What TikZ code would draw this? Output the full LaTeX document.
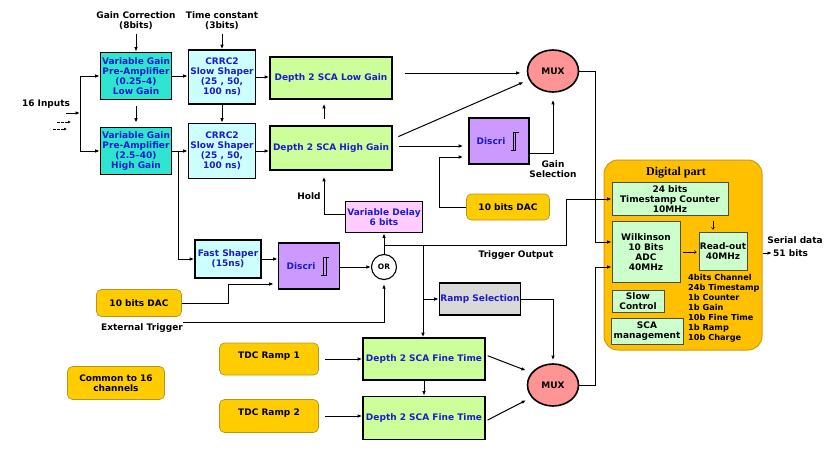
\documentclass[tikz,border=0pt]{standalone}
\usepackage{fontspec}
\setmainfont{DejaVu Sans}
\newfontfamily\titlefont{Liberation Serif}
\usetikzlibrary{arrows.meta,shapes.geometric}
\definecolor{boxBlue}{HTML}{1C1CC8}
\definecolor{preCyan}{HTML}{2EE6D0}
\definecolor{shaperCyan}{HTML}{CCFFFF}
\definecolor{scaGreen}{HTML}{CCFF99}
\definecolor{discPurple}{HTML}{CC99FF}
\definecolor{delayPink}{HTML}{FFCCFF}
\definecolor{muxRed}{HTML}{FF9494}
\definecolor{dacGold}{HTML}{FFCC00}
\definecolor{dacEdge}{HTML}{B8961E}
\definecolor{rampGray}{HTML}{D9D9D9}
\definecolor{digGold}{HTML}{FFC000}
\definecolor{digEdge}{HTML}{D49A10}
\definecolor{digGreen}{HTML}{CCFFCC}

\begin{document}
\begin{tikzpicture}[
  x=1pt,y=-1pt,
  txt/.style={font=\fontsize{9}{10}\selectfont\bfseries},
  blk/.style={txt, draw=black, line width=1.6pt, text=boxBlue, align=center,
    inner sep=1pt},
  pre/.style={blk, fill=preCyan},
  shp/.style={blk, fill=shaperCyan},
  sca/.style={blk, fill=scaGreen, minimum width=122pt, minimum height=42pt},
  disc/.style={blk, fill=discPurple},
  dac/.style={txt, draw=dacEdge, line width=0.7pt, rounded corners=5pt,
    fill=dacGold, align=center},
  mux/.style={txt, ellipse, draw=black, line width=1.6pt, fill=muxRed,
    minimum width=51pt, minimum height=42pt, inner sep=0pt},
  dig/.style={txt, draw=black!70, line width=0.7pt, fill=digGreen, align=center,
    inner sep=1pt},
  lbl/.style={txt, align=center},
  line/.style={line width=1pt},
  arr/.style={line, -{Latex[length=4.5pt,width=3.5pt]}},
  tiny/.style={line width=0.5pt, -{To[length=2.5pt,width=3.5pt]}}
]
\fill[white] (0,0) rectangle (830,450);
\useasboundingbox (0,0) rectangle (830,450);

% analog front end
\node[lbl] (gainLbl) at (136,21) {Gain Correction\\(8bits)};
\node[lbl] (timeLbl) at (222,21) {Time constant\\(3bits)};
\node[lbl] (inLbl) at (46,104) {16 Inputs};
\node[pre, minimum width=71pt, minimum height=47pt] (preL) at (136,76)
  {Variable Gain\\Pre-Amplifier\\(0.25--4)\\Low Gain};
\node[pre, minimum width=71pt, minimum height=47pt] (preH) at (136,151)
  {Variable Gain\\Pre-Amplifier\\(2.5--40)\\High Gain};
\node[shp, minimum width=67pt, minimum height=54pt] (crrcL) at (222,77)
  {CRRC2\\Slow Shaper\\(25 , 50,\\100 ns)};
\node[shp, minimum width=67pt, minimum height=55pt] (crrcH) at (222,151)
  {CRRC2\\Slow Shaper\\(25 , 50,\\100 ns)};
\node[sca] (scaL) at (331,78) {Depth 2 SCA Low Gain};
\node[sca, minimum height=44pt] (scaH) at (331,148) {Depth 2 SCA High Gain};
\node[mux] (muxT) at (553,71) {MUX};
\node[disc, minimum width=60pt, minimum height=46pt] (discT) at (499,141)
  {Discri\hspace{16pt}};
\node[lbl] (gselLbl) at (553,169) {Gain\\Selection};
\node[dac, minimum width=83pt, minimum height=26pt] (dacT) at (508,207)
  {10 bits DAC};
\node[lbl] (holdLbl) at (309,196) {Hold};
\node[blk, fill=delayPink, minimum width=77pt, minimum height=31pt] (delay)
  at (384,217) {Variable Delay\\6 bits};

% trigger path
\node[shp, minimum width=66pt, minimum height=38pt] (fast) at (228,259)
  {Fast Shaper\\(15ns)};
\node[disc, minimum width=61pt, minimum height=46pt] (discB) at (309,266)
  {Discri\hspace{16pt}};
\node[txt, circle, draw=black, line width=1.1pt, fill=white, minimum size=25pt,
  inner sep=0pt, font=\fontsize{7.5}{8}\selectfont\bfseries] (orG) at (384,267) {OR};
\node[dac, minimum width=85pt, minimum height=27pt] (dacB) at (139,303)
  {10 bits DAC};
\node[lbl] (extLbl) at (142,328) {External Trigger};
\node[lbl] (trigLbl) at (516,255) {Trigger Output};
\node[blk, fill=rampGray, minimum width=80pt, minimum height=32pt] (ramp)
  at (480,299) {Ramp Selection};

% fine time
\node[dac, minimum width=99pt, minimum height=32pt] (tdc1) at (269,359)
  {\raisebox{8pt}{TDC Ramp 1}};
\node[dac, minimum width=99pt, minimum height=33pt] (tdc2) at (269,416)
  {\raisebox{8pt}{TDC Ramp 2}};
\node[sca] (ft1) at (424,359) {Depth 2 SCA Fine Time};
\node[sca, minimum height=43pt] (ft2) at (424,418) {Depth 2 SCA Fine Time};
\node[mux] (muxB) at (553,385) {MUX};
\node[dac, minimum width=97pt, minimum height=33pt] (common) at (116,383)
  {Common to 16\\channels};

% digital part
\node[draw=digEdge, line width=1pt, fill=digGold, rounded corners=14pt,
  minimum width=158pt, minimum height=190pt] (digital) at (683,255) {};
\node[font=\titlefont\bfseries\fontsize{12}{13}\selectfont] (digTitle)
  at (676,173) {Digital part};
\node[dig, minimum width=116pt, minimum height=33pt] (tsc) at (670,199)
  {24 bits\\Timestamp Counter\\10MHz};
\node[dig, minimum width=68pt, minimum height=61pt] (wilk) at (646,252)
  {Wilkinson\\10 Bits\\ADC\\40MHz};
\node[dig, minimum width=48pt, minimum height=38pt] (rdout) at (723,251)
  {Read-out\\40MHz};
\node[dig, minimum width=52pt, minimum height=22pt] (slow) at (638,301)
  {Slow\\Control};
\node[dig, minimum width=72pt, minimum height=26pt] (scam) at (647,331)
  {SCA\\management};
\node[txt, font=\fontsize{8.2}{10}\selectfont\bfseries, align=left, anchor=north west,
  inner sep=0pt] (fields) at (688,274)
  {4bits Channel\\24b Timestamp\\1b Counter\\1b Gain\\10b Fine Time\\1b Ramp\\10b Charge};
\node[lbl] (serLbl) at (795,240) {Serial data};
\node[lbl, anchor=west, inner sep=1pt] (serNum) at (772,253) {51 bits};

% schmitt symbols
\foreach \d in {discT,discB} {
  \draw[line width=0.9pt] ([shift={(-19,9)}]\d.east) -- ++(5,0) -- ++(0,-18);
  \draw[line width=0.9pt] ([shift={(-16.5,9)}]\d.east) -- ++(0,-18) -- ++(5.5,0);
}

% inputs
\coordinate (inA) at (66,113);
\coordinate (inJ) at (80,113);
\draw[arr] (inA) -- (inJ);
\draw[arr] (inJ) |- (preL.west);
\draw[arr] (inJ) |- (preH.west);
\foreach \k/\x/\y in {1/57/122,2/53/129} {
  \coordinate (dash\k) at (\x,\y);
  \draw[line width=0.8pt, dashed, dash pattern=on 2.5pt off 1.5pt,
    -{Latex[length=3pt,width=3pt]}] (dash\k) -- ++(14,0);
}

% connectors
\draw[arr] (gainLbl.south) -- (preL.north);
\draw[arr] (timeLbl.south) -- (crrcL.north);
\draw[arr, shorten <=6pt, shorten >=4pt] (preL.south) -- (preH.north);
\draw[arr] (preL.east) -- (preL.east -| crrcL.west);
\draw[arr] (preH.east) -- (preH.east -| crrcH.west);
\draw[arr] ([xshift=6pt]preH.east) |- (fast.west);
\draw[arr] (crrcL.south) -- (crrcH.north);
\draw[arr] (crrcL.east) -- (crrcL.east -| scaL.west);
\draw[arr] (crrcH.east) -- (crrcH.east -| scaH.west);
\draw[arr, shorten <=6pt, shorten >=4pt] ([xshift=-7pt]scaH.north) -- ([xshift=-7pt]scaL.south);
\draw[arr, shorten <=12pt, shorten >=6pt] ([yshift=5pt]scaL.east) -- ([yshift=5pt]scaL.east -| muxT.west);
\draw[arr, shorten <=6pt, shorten >=6pt] ([yshift=9pt]scaH.east) -- (muxT.200);
\draw[arr, shorten <=6pt, shorten >=5pt] ([yshift=2pt]scaH.east) -- ([yshift=2pt]scaH.east -| discT.west);
\draw[arr, shorten >=7pt] ([yshift=-12pt]discT.east) -| (muxT.south);
\draw[arr, shorten >=5pt] (dacT.west) -- ++(-27,0) |- ([yshift=-16pt]discT.west);
\draw[arr, shorten >=6pt] ([yshift=3pt]delay.west) -| ([xshift=-7pt]scaH.south);
\draw[arr] (orG.north) -- (delay.south);
\draw[arr] (muxT.east) -- ++(16,0) |- ([yshift=10pt]wilk.west);
\draw[arr] (muxB.east) -- ++(16,0) |- ([yshift=-15pt]wilk.west);

\draw[arr] (fast.east) -- (fast.east -| discB.west);
\draw[arr] (discB.east |- orG.west) -- (orG.west);
\draw[arr, shorten >=4pt] (dacB.east) -- ++(47,0) |- ([yshift=-18pt]discB.west);
\coordinate (extA) at (183,322);
\draw[arr, shorten >=4pt] (extA) -| (orG.south);

\coordinate (trigJ) at (384,245);
\coordinate (trigK) at (566,245);
\coordinate (rampJ) at (423,245);
\draw[arr] (trigJ) -- (trigK) |- (tsc.west);
\draw[arr] (rampJ) -- (rampJ |- ft1.north);
\draw[arr] (rampJ |- ramp.west) -- (ramp.west);
\draw[arr, shorten >=3pt] (ramp.east) -| (muxB.north);

\draw[arr, shorten <=6pt] (tdc1.east) -- (tdc1.east -| ft1.west);
\draw[arr, shorten <=6pt] (tdc2.east) -- (tdc2.east -| ft2.west);
\draw[arr] (ft1.south) -- (ft2.north);
\draw[arr, shorten <=2pt, shorten >=6pt] ([yshift=4pt]ft1.east) -- (muxB.150);
\draw[arr, shorten <=2pt, shorten >=6pt] ([yshift=-3pt]ft2.east) -- (muxB.210);

\draw[tiny, shorten <=5pt, shorten >=2pt] ([xshift=-10pt]rdout.north |- tsc.south) -- ([xshift=-10pt]rdout.north);
\draw[tiny, shorten <=3pt, shorten >=2pt] (wilk.east) -- (wilk.east -| rdout.west);
\draw[arr] (digital.east |- serNum.west) -- (serNum.west);
\end{tikzpicture}
\end{document}
